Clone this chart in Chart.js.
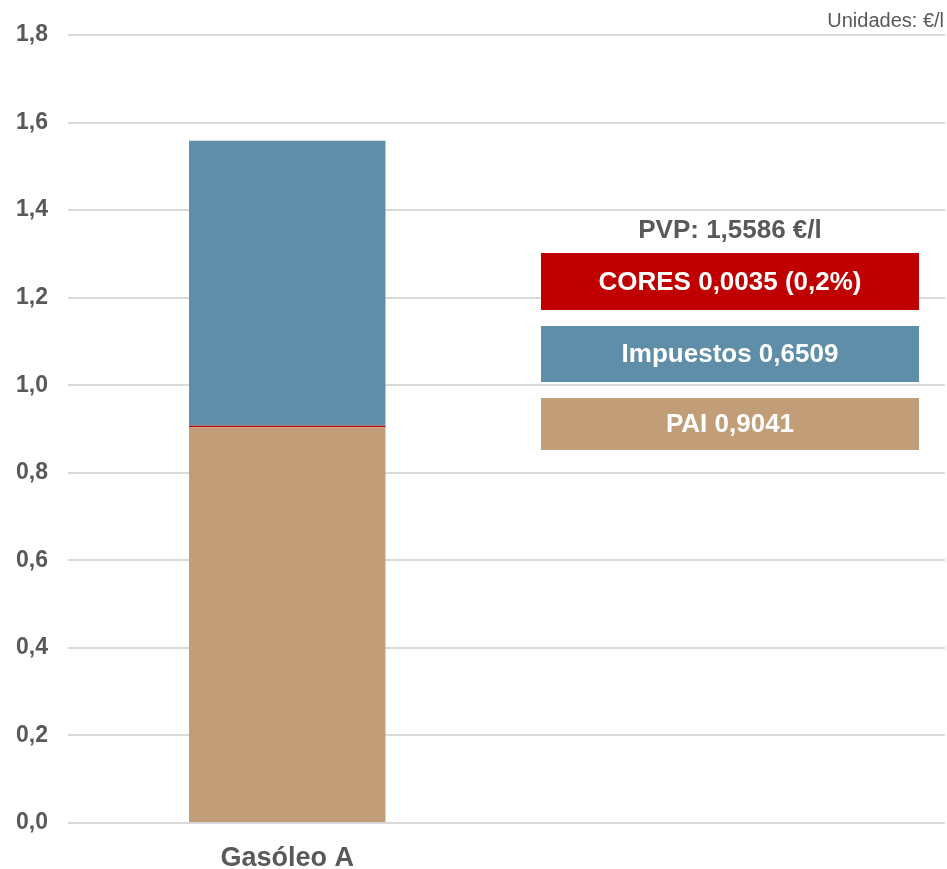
<!DOCTYPE html>
<html>
<head>
<meta charset="utf-8">
<script src="https://cdn.jsdelivr.net/npm/chart.js@4/dist/chart.umd.min.js"></script>
<style>
  html, body { margin: 0; padding: 0; background: #fff; }
  #wrap { width: 947px; height: 869px; position: relative; }
</style>
</head>
<body>
<div id="wrap"><canvas id="grafico"></canvas></div>
<script>
const categorias = ['Gasóleo A', ''];
const pai = [0.9041, null];
const cores = [0.0035, null];
const impuestos = [0.6509, null];
const pvp = 1.5586;

const etiquetasCajas = ['CORES 0,0035 (0,2%)', 'Impuestos 0,6509', 'PAI 0,9041'];
const coloresCajas = ['#C00000', '#5F8FA8', '#C19E77'];

const gris = '#595959';

// cajas de texto a la derecha y nota de unidades
const cajasPlugin = {
    id: 'cajas',
    afterDraw(chart) {
        const ctx = chart.ctx;
        const area = chart.chartArea;
        const cx = area.left + 662;
        const ancho = 378;
        const cajas = [[218, 57], [291, 56], [363, 52]];
        ctx.save();
        ctx.textAlign = 'center';
        ctx.textBaseline = 'middle';
        ctx.fillStyle = gris;
        ctx.font = 'bold 26px "Liberation Sans", Arial, sans-serif';
        ctx.fillText('PVP: ' + pvp.toFixed(4).replace('.', ',') + ' €/l', cx, area.top + 196);
        cajas.forEach((c, i) => {
            ctx.fillStyle = coloresCajas[i];
            ctx.fillRect(cx - ancho / 2, area.top + c[0], ancho, c[1]);
            ctx.fillStyle = '#fff';
            ctx.font = 'bold 26px "Liberation Sans", Arial, sans-serif';
            ctx.fillText(etiquetasCajas[i], cx, area.top + c[0] + c[1] / 2 + 1);
        });
        ctx.textAlign = 'right';
        ctx.fillStyle = gris;
        ctx.font = '20px "Liberation Sans", Arial, sans-serif';
        ctx.fillText('Unidades: €/l', chart.width - 3, 21);
        ctx.restore();
    }
};

new Chart(document.getElementById('grafico'), {
    type: 'bar',
    data: {
        labels: categorias,
        datasets: [
            { label: 'PAI', data: pai, backgroundColor: '#C19E77' },
            { label: 'CORES', data: cores, backgroundColor: '#C00000' },
            { label: 'Impuestos', data: impuestos, backgroundColor: '#5F8FA8' }
        ]
    },
    options: {
        responsive: true,
        maintainAspectRatio: false,
        animation: false,
        layout: { padding: { top: 35, right: 2, left: 0, bottom: 0 } },
        datasets: { bar: { categoryPercentage: 1, barPercentage: 0.448 } },
        plugins: {
            legend: { display: false },
            tooltip: { enabled: false }
        },
        scales: {
            x: {
                stacked: true,
                grid: { display: false },
                border: { display: false },
                ticks: {
                    color: gris,
                    padding: 11,
                    font: { family: '"Liberation Sans", Arial', size: 27, weight: 'bold' }
                },
                afterFit(s) { s.height = 46; }
            },
            y: {
                stacked: true,
                min: 0,
                max: 1.8,
                ticks: {
                    stepSize: 0.2,
                    color: gris,
                    padding: 20,
                    font: { family: '"Liberation Sans", Arial', size: 23, weight: 'bold' },
                    callback: v => v.toFixed(1).replace('.', ',')
                },
                grid: { color: '#D9D9D9', lineWidth: 2, drawTicks: false },
                border: { display: false },
                afterFit(s) { s.width = 68; }
            }
        }
    },
    plugins: [cajasPlugin]
});
</script>
</body>
</html>
